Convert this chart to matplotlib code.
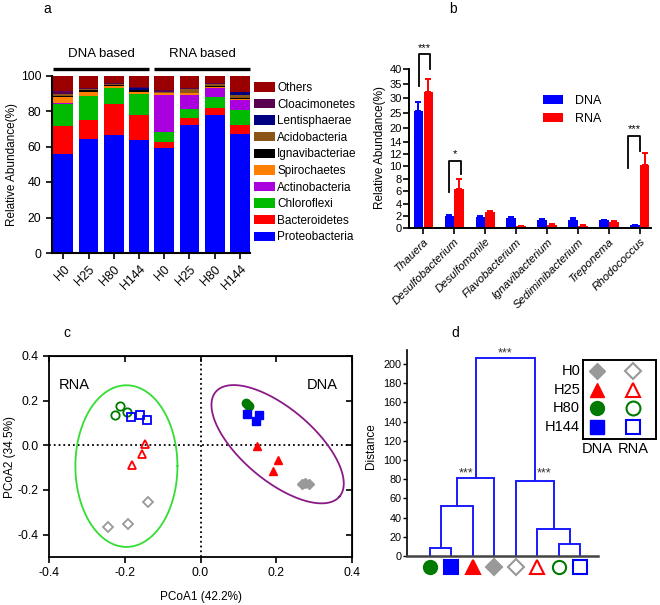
import numpy as np
import matplotlib
matplotlib.use('Agg')
import matplotlib.pyplot as plt
from matplotlib.patches import Patch
from matplotlib.lines import Line2D

plt.rcParams['font.family'] = ['Liberation Sans', 'DejaVu Sans']
plt.rcParams['axes.unicode_minus'] = False

W, H = 660, 605

# ---------------- Panel a data ----------------
samples_a = ['H0', 'H25', 'H80', 'H144', 'H0', 'H25', 'H80', 'H144']
phyla = ['Proteobacteria', 'Bacteroidetes', 'Chloroflexi', 'Actinobacteria', 'Spirochaetes',
         'Ignavibacteriae', 'Acidobacteria', 'Lentisphaerae', 'Cloacimonetes', 'Others']
proteobacteria = [55.5, 64.2, 66.5, 63.5, 59.3, 72.3, 78.0, 67.0]
bacteroidetes = [16.0, 11.0, 17.5, 14.5, 3.0, 3.7, 3.6, 5.0]
chloroflexi = [12.5, 13.0, 8.7, 11.3, 5.6, 5.3, 6.2, 8.5]
actinobacteria = [0.7, 0.5, 0.2, 0.3, 21.0, 7.6, 5.4, 5.8]
spirochaetes = [3.0, 2.0, 1.0, 1.0, 1.2, 1.0, 0.5, 0.7]
ignavibacteriae = [1.0, 1.0, 0.6, 1.0, 0.3, 0.3, 0.5, 0.4]
acidobacteria = [0.8, 0.5, 0.6, 0.5, 0.3, 2.0, 0.8, 1.6]
lentisphaerae = [0.3, 0.3, 0.2, 0.8, 0.2, 0.3, 0.3, 1.5]
cloacimonetes = [1.5, 0.5, 0.3, 0.5, 1.0, 0.5, 0.3, 0.3]
others = [8.7, 7.0, 4.4, 6.6, 8.1, 7.0, 4.4, 9.2]
groups_a = ['DNA based', 'RNA based']
phylum_colors = ['#0000ff', '#ff0000', '#00bb00', '#aa00dd', '#ff8000',
                 '#000000', '#8b5518', '#000080', '#5a0050', '#9a0000']

# ---------------- Panel b data ----------------
genera = ['Thauera', 'Desulfobacterium', 'Desulfomonile', 'Flavobacterium',
          'Ignavibacterium', 'Sediminibacterium', 'Treponema', 'Rhodococcus']
dna_mean = [25.7, 2.0, 1.9, 1.6, 1.4, 1.3, 1.3, 0.5]
dna_err = [3.0, 0.15, 0.1, 0.2, 0.1, 0.4, 0.1, 0.05]
rna_mean = [32.1, 6.4, 2.6, 0.3, 0.6, 0.45, 1.0, 10.2]
rna_err = [4.5, 1.5, 0.15, 0.05, 0.1, 0.05, 0.1, 2.0]
# significance brackets: (category, left offset, right offset, top, left bottom, right bottom, label)
brackets = [(0, -0.13, 0.23, 45.1, 34.3, 40.1, '***'),
            (1, -0.16, 0.22, 10.9, 5.8, 8.7, '*'),
            (7, -0.38, 0.0, 14.9, 9.7, 12.5, '***')]

# ---------------- Panel c data ----------------
rna_h0_x = [-0.138, -0.192, -0.244]; rna_h0_y = [-0.253, -0.352, -0.367]
rna_h25_x = [-0.147, -0.154, -0.180]; rna_h25_y = [0.006, -0.037, -0.087]
rna_h80_x = [-0.225, -0.214, -0.194]; rna_h80_y = [0.138, 0.176, 0.150]
rna_h144_x = [-0.183, -0.160, -0.141]; rna_h144_y = [0.126, 0.135, 0.115]
dna_h0_x = [0.268, 0.277, 0.286]; dna_h0_y = [-0.172, -0.169, -0.172]
dna_h25_x = [0.150, 0.205, 0.192]; dna_h25_y = [-0.004, -0.067, -0.117]
dna_h80_x = [0.120, 0.125, 0.128]; dna_h80_y = [0.190, 0.181, 0.176]
dna_h144_x = [0.123, 0.148, 0.154]; dna_h144_y = [0.141, 0.111, 0.135]
# ellipses: centre and two conjugate semi-axis vectors (data units)
rna_ell = dict(c=(-0.196, -0.093), u=(0.135, 0.0), v=(0.0, 0.362))
dna_ell = dict(c=(0.204, 0.005), u=(0.164, -0.234), v=(0.0612, 0.124))

# ---------------- Panel d data ----------------
leaf_labels = ['DNA H80', 'DNA H144', 'DNA H25', 'DNA H0', 'RNA H0', 'RNA H25', 'RNA H80', 'RNA H144']
# merges (child a, child b, height) -> new node ids 8, 9, ...
merges = [(0, 1, 8.7), (8, 2, 51.7), (9, 3, 80.9), (6, 7, 12.2), (11, 5, 27.8), (12, 4, 78.5), (10, 13, 205.9)]

mk_style = {
    'H0': dict(marker='D', color='#999999'),
    'H25': dict(marker='^', color='#ff0000'),
    'H80': dict(marker='o', color='#007a00'),
    'H144': dict(marker='s', color='#0000ff'),
}


def fa(x0, y0, x1, y1):
    return [x0 / W, 1 - y1 / H, (x1 - x0) / W, (y1 - y0) / H]


fig = plt.figure(figsize=(6.6, 6.05), dpi=100)

# ======================= Panel a =======================
axa = fig.add_axes(fa(51.7, 75.5, 250, 253))
xa = np.arange(len(samples_a))
layers = [proteobacteria, bacteroidetes, chloroflexi, actinobacteria, spirochaetes,
          ignavibacteriae, acidobacteria, lentisphaerae, cloacimonetes, others]
bottom = np.zeros(len(samples_a))
handles = []
for vals, col, name in zip(layers, phylum_colors, phyla):
    axa.bar(xa, vals, 0.78, bottom=bottom, color=col, edgecolor='none')
    bottom += np.array(vals)
    handles.append(Patch(facecolor=col, edgecolor='none', label=name))
axa.set_xlim(-0.46, 7.4)
axa.set_ylim(0, 100)
axa.set_yticks([0, 20, 40, 60, 80, 100])
axa.set_xticks(xa)
axa.set_xticklabels(samples_a, rotation=45, ha='right', rotation_mode='anchor', fontsize=8.8)
axa.tick_params(axis='y', labelsize=8.8, length=4, width=1.2)
axa.tick_params(axis='x', length=4, width=1.2)
for s in ['top', 'right']:
    axa.spines[s].set_visible(False)
for s in ['left', 'bottom']:
    axa.spines[s].set_linewidth(1.5)
axa.set_ylabel('Relative Abundance(%)', fontsize=8.5, labelpad=2)
for gi, g in enumerate(groups_a):
    x0 = gi * 4 - 0.39
    x1 = gi * 4 + 3 + 0.39
    axa.plot([x0, x1], [103.8, 103.8], color='black', lw=2.4, clip_on=False, solid_capstyle='butt')
    axa.text((x0 + x1) / 2, 108.5, g, ha='center', va='bottom', fontsize=9.5)
fig.legend(handles[::-1], phyla[::-1], loc='upper left', bbox_to_anchor=(254 / W, 1 - 82 / H),
           frameon=False, fontsize=8.5, handlelength=1.75, handleheight=0.85,
           handletextpad=0.2, labelspacing=0.39, borderpad=0, borderaxespad=0)
fig.text(47 / W, 1 - 9 / H, 'a', fontsize=10, ha='center', va='center')

# ======================= Panel b =======================
xb = np.arange(len(genera))
axb_lo = fig.add_axes(fa(409.3, 138.5, 650.7, 228.3))
axb_hi = fig.add_axes(fa(409.3, 69.3 - 0.6, 650.7, 138.5))
axb_hi.patch.set_alpha(0)
for ax in (axb_lo, axb_hi):
    ax.bar(xb - 0.16, dna_mean, 0.3, color='#0000ff', label='DNA')
    ax.bar(xb + 0.16, rna_mean, 0.3, color='#ff0000', label='RNA')
    ax.errorbar(xb - 0.16, dna_mean, yerr=[np.zeros(len(xb)), dna_err], fmt='none',
                ecolor='#0000ff', capsize=2.5, elinewidth=1.4, capthick=1.4)
    ax.errorbar(xb + 0.16, rna_mean, yerr=[np.zeros(len(xb)), rna_err], fmt='none',
                ecolor='#ff0000', capsize=2.5, elinewidth=1.4, capthick=1.4)
    ax.set_xlim(-0.45, 7.35)
    for s in ['top', 'right']:
        ax.spines[s].set_visible(False)
    for s in ['left', 'bottom']:
        ax.spines[s].set_linewidth(1.4)
    ax.tick_params(axis='y', labelsize=8, length=4, width=1.2, pad=1.5)
axb_lo.set_ylim(0, 14.5)
axb_lo.set_yticks(np.arange(0, 15, 2))
axb_hi.set_ylim(16.3, 40.2)
axb_hi.set_yticks([20, 25, 30, 35, 40])
axb_hi.spines['bottom'].set_visible(False)
axb_hi.tick_params(axis='x', bottom=False, labelbottom=False)
axb_lo.set_xticks(xb)
axb_lo.set_xticklabels(genera, rotation=45, ha='right', rotation_mode='anchor',
                       fontsize=8.2, style='italic')
axb_lo.tick_params(axis='x', length=4, width=1.2, pad=2)
for (ci, lo, ro, top, lb, rb, lab) in brackets:
    ax = axb_hi if top > 20 else axb_lo
    ax.plot([ci + lo, ci + lo, ci + ro, ci + ro], [lb, top, top, rb], color='black', lw=1.3,
            clip_on=False)
    ax.text(ci + (lo + ro) / 2, top + (0.6 if top > 20 else 0.25), lab, ha='center', va='bottom',
            fontsize=8, clip_on=False)
fig.text(380 / W, 1 - 148 / H, 'Relative Abundance(%)', rotation=90, ha='center', va='center',
         fontsize=8.5)
fig.legend([Patch(facecolor='#0000ff'), Patch(facecolor='#ff0000')], ['DNA', 'RNA'],
           loc='upper left', bbox_to_anchor=(543 / W, 1 - 95 / H), frameon=False, fontsize=9,
           handlelength=1.6, handleheight=0.75, handletextpad=1.0, labelspacing=0.45,
           borderpad=0, borderaxespad=0)
fig.text(453 / W, 1 - 9 / H, 'b', fontsize=10, ha='center', va='center')

# ======================= Panel c =======================
axc = fig.add_axes(fa(49.3, 356, 351.7, 557))
axc.set_xlim(-0.4, 0.4)
axc.set_ylim(-0.5, 0.4)
axc.axhline(0, color='black', ls=':', lw=1.3)
axc.axvline(0, color='black', ls=':', lw=1.3)
t = np.linspace(0, 2 * np.pi, 300)
for ell, col in ((rna_ell, '#33dd33'), (dna_ell, '#8b1a89')):
    ex = ell['c'][0] + ell['u'][0] * np.cos(t) + ell['v'][0] * np.sin(t)
    ey = ell['c'][1] + ell['u'][1] * np.cos(t) + ell['v'][1] * np.sin(t)
    axc.plot(ex, ey, color=col, lw=1.3)
ms_c = 6
for key, xs, ys in (('H0', rna_h0_x, rna_h0_y), ('H25', rna_h25_x, rna_h25_y),
                    ('H80', rna_h80_x, rna_h80_y), ('H144', rna_h144_x, rna_h144_y)):
    st = mk_style[key]
    axc.plot(xs, ys, ls='none', marker=st['marker'], mfc='none', mec=st['color'], mew=1.3,
             ms=ms_c - (1 if st['marker'] == 'D' else 0))
for key, xs, ys in (('H0', dna_h0_x, dna_h0_y), ('H25', dna_h25_x, dna_h25_y),
                    ('H80', dna_h80_x, dna_h80_y), ('H144', dna_h144_x, dna_h144_y)):
    st = mk_style[key]
    axc.plot(xs, ys, ls='none', marker=st['marker'], mfc=st['color'], mec=st['color'],
             ms=ms_c - (1 if st['marker'] == 'D' else 0))
axc.set_xticks([-0.4, -0.2, 0.0, 0.2, 0.4])
axc.set_yticks([-0.4, -0.2, 0.0, 0.2, 0.4])
axc.xaxis.set_major_formatter(matplotlib.ticker.FormatStrFormatter('%.1f'))
axc.yaxis.set_major_formatter(matplotlib.ticker.FormatStrFormatter('%.1f'))
axc.tick_params(labelsize=8.8, length=4, width=1.2)
for s in axc.spines.values():
    s.set_linewidth(1.3)
sec_y = axc.secondary_yaxis('right')
sec_y.set_yticks([-0.4, -0.2, 0.0, 0.2, 0.4])
sec_y.tick_params(direction='in', labelright=False, length=4, width=1.2)
sec_x = axc.secondary_xaxis('top')
sec_x.set_xticks([-0.4, -0.2, 0.0, 0.2, 0.4])
sec_x.tick_params(direction='in', labeltop=False, length=4, width=1.2)
axc.text(-0.375, 0.27, 'RNA', fontsize=10.5, ha='left', va='center')
axc.text(0.363, 0.27, 'DNA', fontsize=10.5, ha='right', va='center')
axc.set_xlabel('PCoA1 (42.2%)', fontsize=8.5, labelpad=8)
axc.set_ylabel('PCoA2 (34.5%)', fontsize=8.5, labelpad=1)
fig.text(67 / W, 1 - 333 / H, 'c', fontsize=10, ha='center', va='center')

# ======================= Panel d =======================
axd = fig.add_axes(fa(407.3, 350, 598.3, 556))
axd.set_xlim(-1.056, 7.83)
axd.set_ylim(0, 214.6)
node_x = {i: float(i) for i in range(len(leaf_labels))}
node_h = {i: 0.0 for i in range(len(leaf_labels))}
nid = len(leaf_labels)
for a, b, h in merges:
    axd.plot([node_x[a], node_x[a], node_x[b], node_x[b]], [node_h[a], h, h, node_h[b]],
             color='#1a1aff', lw=1.4, clip_on=False, solid_joinstyle='miter')
    node_x[nid] = (node_x[a] + node_x[b]) / 2
    node_h[nid] = h
    nid += 1
for i, lab in enumerate(leaf_labels):
    kind, key = lab.split()
    st = mk_style[key]
    filled = kind == 'DNA'
    axd.plot(i, -11, ls='none', marker=st['marker'], ms=9.5 if st['marker'] != 'D' else 8,
             mfc=st['color'] if filled else 'white', mec=st['color'], mew=1.5, clip_on=False)
root_l = node_x[10]
root_r = node_x[13]
axd.text((root_l + root_r) / 2, 211.5, '***', ha='center', va='center', fontsize=9, color='#333333')
axd.text(root_l - 0.12, 86.5, '***', ha='right', va='center', fontsize=9, color='#333333')
axd.text(root_r + 0.08, 86.5, '***', ha='left', va='center', fontsize=9, color='#333333')
axd.set_xticks([])
axd.set_yticks(np.arange(0, 201, 20))
axd.tick_params(axis='y', labelsize=7.8, length=3, width=1.0, pad=1)
for s in ['top', 'right']:
    axd.spines[s].set_visible(False)
axd.spines['left'].set_linewidth(1.2)
axd.spines['bottom'].set_linewidth(1.8)
axd.spines['bottom'].set_color('#444444')
fig.text(371 / W, 1 - 446 / H, 'Distance', rotation=90, ha='center', va='center', fontsize=8.5)
fig.text(455.7 / W, 1 - 333.3 / H, 'd', fontsize=10, ha='center', va='center')

# legend box for d
axl = fig.add_axes(fa(582.7, 360, 656, 439.3))
axl.set_xlim(0, 73.3)
axl.set_ylim(79.3, 0)
axl.set_xticks([])
axl.set_yticks([])
for s in axl.spines.values():
    s.set_linewidth(1.4)
for r, key in enumerate(['H0', 'H25', 'H80', 'H144']):
    yy = [10.7, 30.0, 48.3, 66.7][r]
    st = mk_style[key]
    msz = 10 if st['marker'] != 'D' else 8.5
    axl.plot(14.6, yy, marker=st['marker'], ms=msz, mfc=st['color'], mec=st['color'], ls='none')
    axl.plot(50.6, yy, marker=st['marker'], ms=msz, mfc='white', mec=st['color'], mew=1.5, ls='none')
    axl.text(-2.5, yy, key, ha='right', va='center', fontsize=10.5, clip_on=False)
axl.text(14.6, 89, 'DNA', ha='center', va='center', fontsize=10.5, clip_on=False)
axl.text(50.6, 89, 'RNA', ha='center', va='center', fontsize=10.5, clip_on=False)

fig.savefig('out.png', dpi=100)
